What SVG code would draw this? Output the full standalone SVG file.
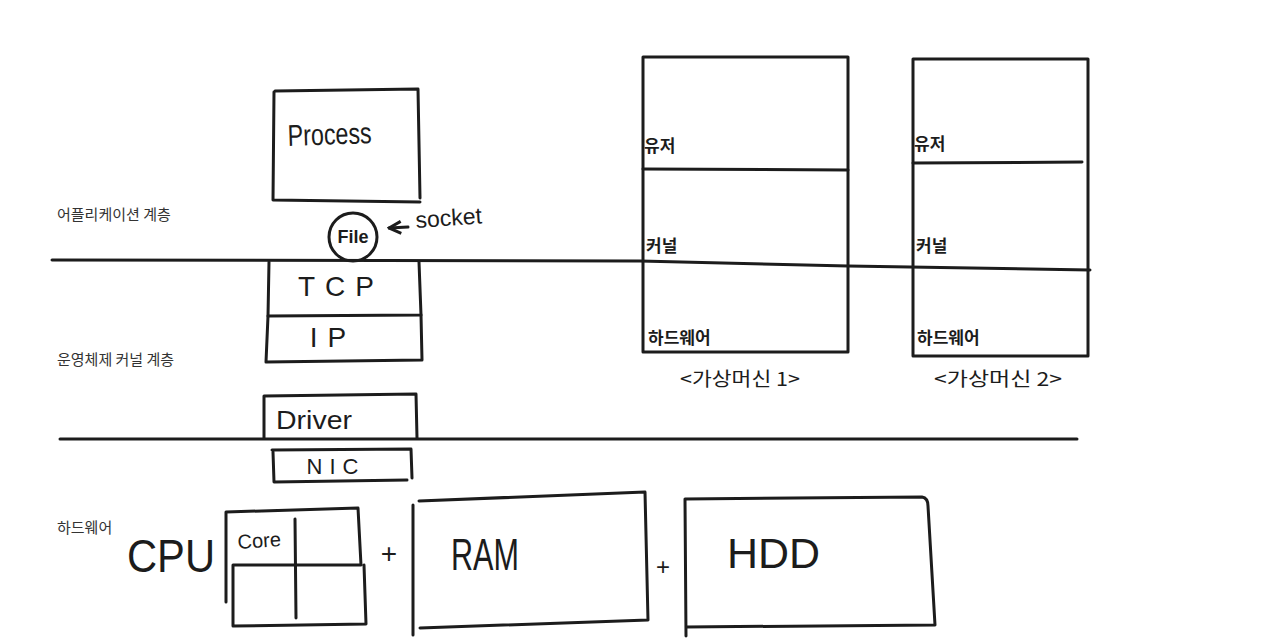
<svg xmlns="http://www.w3.org/2000/svg" width="1280" height="642" viewBox="0 0 1280 642">
<defs>
<style>
.s{fill:none;stroke:#1c1c1c;stroke-width:3;stroke-linecap:round;stroke-linejoin:round}
.h{font-family:"Liberation Sans","Noto Sans",sans-serif;fill:#1c1c1c}
.k{font-family:"Noto Sans CJK KR",sans-serif;fill:#1c1c1c;font-weight:700;font-size:17px}
.vl{font-family:"Noto Sans CJK KR",sans-serif;fill:#1c1c1c;font-weight:400;font-size:19px}
.lab{font-family:"Noto Sans CJK KR",sans-serif;fill:#333;font-size:15px}
</style>
<marker id="ah" viewBox="0 0 10 10" refX="9" refY="5" markerWidth="5" markerHeight="5" orient="auto">
<path d="M1,1 L9,5 L1,9" fill="none" stroke="#1c1c1c" stroke-width="2"/>
</marker>
</defs>
<rect width="1280" height="642" fill="#fff"/>

<g id="layer-labels">
<text class="lab" x="57" y="220">어플리케이션 계층</text>
<text class="lab" x="57" y="365">운영체제 커널 계층</text>
<text class="lab" x="57" y="533">하드웨어</text>
</g>

<g id="layer-lines">
<polyline class="s" points="52,260 640,261 848,266 1090,270"/>
<line class="s" x1="60" y1="439" x2="1077" y2="439"/>
</g>

<g id="process">
<path class="s" d="M275,91 L418,89 L420,198 M274,92 L273,200 L420,202"/>
<text class="h" x="288" y="146" font-size="30" textLength="84" lengthAdjust="spacingAndGlyphs" transform="rotate(-2 288 146)">Process</text>
</g>

<g id="file">
<circle class="s" cx="353" cy="237" r="24"/>
<text class="h" x="353" y="243" font-size="18" font-weight="700" text-anchor="middle">File</text>
</g>

<g id="socket-label">
<text class="h" x="416" y="228" font-size="23" transform="rotate(-4 416 228)">socket</text>
</g>

<g id="tcp">
<path class="s" d="M269,262 L268,316 L421,315 L419,262"/>
<text class="h" x="341" y="296" font-size="28" text-anchor="middle" letter-spacing="10">TCP</text>
</g>

<g id="ip">
<path class="s" d="M268,316 L266,362 L422,360 L421,315"/>
<text class="h" x="333" y="347" font-size="28" text-anchor="middle" letter-spacing="10">IP</text>
</g>

<g id="driver">
<path class="s" d="M264,438 L264,396 L416,394 L417,438"/>
<text class="h" x="276" y="429" font-size="25" textLength="76" lengthAdjust="spacingAndGlyphs">Driver</text>
</g>

<g id="nic">
<path class="s" d="M272,450 L411,449 L412,478 M273,452 L274,482 L407,480"/>
<text class="h" x="336" y="474" font-size="22" text-anchor="middle" letter-spacing="7">NIC</text>
</g>

<g id="cpu">
<text class="h" x="127" y="572" font-size="46" textLength="88" lengthAdjust="spacingAndGlyphs">CPU</text>
<path class="s" d="M226,602 L226,512 L358,508 L361,565 L233,565 L233,626 L366,624 L364,565 M295,519 L296,618"/>
<text class="h" x="238" y="549" font-size="20" transform="rotate(-4 238 549)">Core</text>
</g>

<g id="plus1"><text class="h" x="389" y="563" font-size="28" text-anchor="middle">+</text></g>

<g id="ram">
<path class="s" d="M413,505 L413,635 M419,501 L645,492 L648,620 L420,628"/>
<text class="h" x="451" y="570" font-size="44" textLength="68" lengthAdjust="spacingAndGlyphs">RAM</text>
</g>

<g id="plus2"><text class="h" x="663" y="575" font-size="24" text-anchor="middle">+</text></g>

<g id="hdd">
<path class="s" d="M685,499 L922,497 Q928,498 928,506 L935,625 L686,627 M685,499 L686,636"/>
<text class="h" x="727" y="568" font-size="42" textLength="93" lengthAdjust="spacingAndGlyphs">HDD</text>
</g>

<g id="vm1">
<rect class="s" x="643" y="57" width="205" height="295"/>
<line class="s" x1="643" y1="169" x2="848" y2="170"/>
<text class="k" x="644" y="152">유저</text>
<text class="k" x="646" y="252">커널</text>
<text class="k" x="648" y="344">하드웨어</text>
<text class="vl" x="680" y="386" textLength="120" lengthAdjust="spacingAndGlyphs">&lt;가상머신 1&gt;</text>
</g>

<g id="vm2">
<rect class="s" x="913" y="59" width="175" height="297"/>
<line class="s" x1="913" y1="163" x2="1082" y2="162"/>
<text class="k" x="914" y="150">유저</text>
<text class="k" x="916" y="252">커널</text>
<text class="k" x="917" y="344">하드웨어</text>
<text class="vl" x="934" y="386" textLength="128" lengthAdjust="spacingAndGlyphs">&lt;가상머신 2&gt;</text>
</g>

<g id="connectors">
<line class="s" x1="408" y1="227" x2="389" y2="228" marker-end="url(#ah)" stroke-width="2.5"/>
</g>
</svg>
